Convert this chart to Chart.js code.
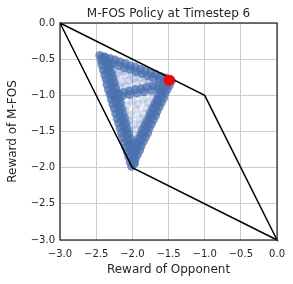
<!DOCTYPE html>
<html>
<head>
<meta charset="utf-8">
<script src="https://cdn.jsdelivr.net/npm/chart.js@4.4.1/dist/chart.umd.min.js"></script>
<style>
    html, body { margin: 0; padding: 0; background: #fff; }
    #wrap { width: 293px; height: 284px; }
</style>
</head>
<body>
<div id="wrap"><canvas id="chartCanvas" width="293" height="284"></canvas></div>
<script>

const chartTitle = "M-FOS Policy at Timestep 6";
const xLabel = "Reward of Opponent";
const yLabel = "Reward of M-FOS";

const xTicks = [-3.0, -2.5, -2.0, -1.5, -1.0, -0.5, 0.0];
const yTicks = [-3.0, -2.5, -2.0, -1.5, -1.0, -0.5, 0.0];

// outline of the feasible region
const boundaryX = [-3, -1, 0, -2, -3];
const boundaryY = [0, -1, -3, -2, 0];

// final policy point
const finalPoint = [-1.49, -0.79];

const leftEdge = [
    [-2.45, -0.45], [-2.43, -0.52], [-2.42, -0.58], [-2.40, -0.65], [-2.38, -0.72],
    [-2.36, -0.78], [-2.35, -0.85], [-2.33, -0.92], [-2.31, -0.98], [-2.29, -1.05],
    [-2.27, -1.12], [-2.25, -1.18], [-2.23, -1.25], [-2.21, -1.32], [-2.19, -1.38],
    [-2.17, -1.45], [-2.15, -1.52], [-2.13, -1.58], [-2.11, -1.65], [-2.09, -1.72],
    [-2.07, -1.78], [-2.05, -1.85], [-2.03, -1.92], [-2.01, -1.98],
    [-2.39, -0.48], [-2.37, -0.55], [-2.35, -0.62], [-2.33, -0.68], [-2.31, -0.75],
    [-2.29, -0.82], [-2.28, -0.88], [-2.26, -0.95], [-2.24, -1.02], [-2.22, -1.08],
    [-2.20, -1.15], [-2.18, -1.22], [-2.16, -1.28], [-2.14, -1.35], [-2.12, -1.42],
    [-2.10, -1.48], [-2.08, -1.55], [-2.06, -1.62], [-2.04, -1.68], [-2.02, -1.75],
    [-2.00, -1.82], [-1.98, -1.88], [-1.97, -1.94],
    [-2.33, -0.55], [-2.31, -0.62], [-2.29, -0.69], [-2.27, -0.76], [-2.25, -0.83],
    [-2.23, -0.90], [-2.21, -0.97], [-2.19, -1.04], [-2.17, -1.11], [-2.15, -1.18],
    [-2.13, -1.25], [-2.11, -1.32], [-2.09, -1.39], [-2.07, -1.46], [-2.05, -1.53],
    [-2.03, -1.60], [-2.01, -1.67], [-1.99, -1.74], [-1.97, -1.81]
];

const rightEdge = [
    [-1.46, -0.80], [-1.49, -0.86], [-1.52, -0.92], [-1.55, -0.98], [-1.57, -1.04],
    [-1.60, -1.10], [-1.63, -1.16], [-1.66, -1.22], [-1.68, -1.28], [-1.71, -1.34],
    [-1.74, -1.40], [-1.77, -1.46], [-1.79, -1.52], [-1.82, -1.58], [-1.85, -1.64],
    [-1.88, -1.70], [-1.90, -1.76], [-1.93, -1.82], [-1.96, -1.88], [-1.98, -1.94],
    [-1.53, -0.84], [-1.56, -0.90], [-1.59, -0.96], [-1.61, -1.02], [-1.64, -1.08],
    [-1.67, -1.14], [-1.70, -1.20], [-1.72, -1.26], [-1.75, -1.32], [-1.78, -1.38],
    [-1.81, -1.44], [-1.83, -1.50], [-1.86, -1.56], [-1.89, -1.62], [-1.92, -1.68],
    [-1.94, -1.74], [-1.97, -1.80],
    [-1.58, -0.88], [-1.61, -0.94], [-1.64, -1.00], [-1.66, -1.06], [-1.69, -1.12],
    [-1.72, -1.18], [-1.75, -1.24], [-1.77, -1.30], [-1.80, -1.36], [-1.83, -1.42],
    [-1.86, -1.48], [-1.88, -1.54], [-1.91, -1.60], [-1.94, -1.66], [-1.96, -1.72]
];

const topEdge = [
    [-2.38, -0.47], [-2.31, -0.49], [-2.24, -0.51], [-2.17, -0.54], [-2.10, -0.56],
    [-2.03, -0.59], [-1.96, -0.61], [-1.89, -0.64], [-1.82, -0.66], [-1.75, -0.69],
    [-1.68, -0.71], [-1.61, -0.74], [-1.54, -0.76], [-1.48, -0.78],
    [-2.35, -0.53], [-2.27, -0.56], [-2.19, -0.59], [-2.11, -0.62], [-2.03, -0.64],
    [-1.95, -0.67], [-1.87, -0.70], [-1.79, -0.73], [-1.71, -0.75], [-1.63, -0.78],
    [-1.56, -0.81], [-2.42, -0.48], [-2.38, -0.52], [-2.34, -0.58]
];

const innerBand = [
    [-2.28, -0.99], [-2.20, -0.97], [-2.12, -0.96], [-2.04, -0.94], [-1.96, -0.92],
    [-1.88, -0.91], [-1.80, -0.89], [-1.72, -0.87], [-1.64, -0.86],
    [-2.24, -1.03], [-2.14, -1.01], [-2.04, -0.99], [-1.94, -0.97], [-1.84, -0.95],
    [-1.74, -0.93], [-1.64, -0.91]
];

const interior = [
    [-2.40, -0.52], [-2.36, -0.58], [-2.32, -0.62], [-2.30, -0.56], [-2.36, -0.66],
    [-2.28, -0.66], [-2.20, -0.68], [-2.10, -0.72], [-2.00, -0.70], [-1.90, -0.75],
    [-1.80, -0.78], [-2.15, -0.82], [-2.05, -0.80], [-1.95, -0.83], [-2.25, -0.78],
    [-1.70, -0.80], [-2.18, -0.88], [-1.85, -0.84], [-2.22, -0.72], [-2.12, -0.66],
    [-1.98, -0.76], [-1.76, -0.83], [-2.08, -0.87], [-2.26, -0.84],
    [-2.15, -1.10], [-2.00, -1.08], [-1.85, -1.05], [-1.72, -1.02], [-2.10, -1.22],
    [-1.95, -1.20], [-1.80, -1.18], [-2.05, -1.35], [-1.90, -1.32], [-2.10, -1.45],
    [-1.95, -1.48], [-2.02, -1.60], [-1.92, -1.58], [-2.00, -1.72], [-2.05, -1.50],
    [-1.88, -1.40], [-2.02, -1.28], [-2.08, -1.62], [-2.18, -1.06], [-2.08, -1.14],
    [-1.92, -1.12], [-1.78, -1.10], [-2.14, -1.30], [-1.85, -1.26], [-1.98, -1.40],
    [-1.96, -1.66]
];

function toPoints(pairs) {

    return pairs.map(p => ({ x: p[0], y: p[1] }));

}

function formatTick(value) {

    const text = Math.abs(value).toFixed(1);

    return value < -1e-9 ? "\u2212" + text : text;

}

// matplotlib-like frame and title, centred over the axes
const framePlugin = {

    id: "frame",

    afterDraw(chart) {

        const { ctx, chartArea } = chart;

        ctx.save();

        ctx.strokeStyle = "#262626";
        ctx.lineWidth = 1.25;
        ctx.strokeRect(
            chartArea.left,
            chartArea.top,
            chartArea.right - chartArea.left,
            chartArea.bottom - chartArea.top
        );

        ctx.fillStyle = "#262626";
        ctx.font = "12px 'DejaVu Sans'";
        ctx.textAlign = "center";
        ctx.textBaseline = "alphabetic";
        ctx.fillText(chartTitle, (chartArea.left + chartArea.right) / 2, chartArea.top - 6);

        ctx.restore();

    }

};

const edges = [
    ...leftEdge,
    ...rightEdge,
    ...topEdge,
    ...innerBand
];

const ctx =
    document
    .getElementById("chartCanvas")
    .getContext("2d");

new Chart(ctx, {

    type: "scatter",

    data: {

        datasets: [

            {
                label: "final",
                data: [{ x: finalPoint[0], y: finalPoint[1] }],
                backgroundColor: "#ff0000",
                borderWidth: 0,
                pointRadius: 5.5,
                order: 0
            },

            {
                label: "boundary",
                data: boundaryX.map((x, i) => ({ x, y: boundaryY[i] })),
                showLine: true,
                borderColor: "#000000",
                borderWidth: 1.5,
                pointRadius: 0,
                fill: false,
                clip: 2,
                order: 1
            },

            {
                label: "edges",
                data: toPoints(edges),
                backgroundColor: "rgba(76, 114, 176, 0.75)",
                borderWidth: 0,
                pointRadius: 4.5,
                order: 2
            },

            {
                label: "interior",
                data: toPoints(interior),
                backgroundColor: "rgba(76, 114, 176, 0.22)",
                borderWidth: 0,
                pointRadius: 4.5,
                order: 3
            }

        ]

    },

    plugins: [framePlugin],

    options: {

        responsive: false,
        animation: false,
        devicePixelRatio: 1,

        layout: {
            padding: { top: 23, right: 15, left: 0, bottom: 0 }
        },

        plugins: {
            legend: { display: false },
            tooltip: { enabled: false }
        },

        scales: {

            x: {
                type: "linear",
                min: -3,
                max: 0,
                afterBuildTicks(axis) {
                    axis.ticks = xTicks.map(v => ({ value: v }));
                },
                afterFit(axis) {
                    axis.height = 44;
                },
                ticks: {
                    callback: formatTick,
                    color: "#262626",
                    font: { family: "DejaVu Sans", size: 10 },
                    padding: 8,
                    maxRotation: 0
                },
                grid: {
                    color: "#cccccc",
                    lineWidth: 1,
                    drawTicks: false
                },
                border: { display: false },
                title: {
                    display: true,
                    text: xLabel,
                    color: "#262626",
                    font: { family: "DejaVu Sans", size: 12 },
                    padding: { top: 0, bottom: 7 }
                }
            },

            y: {
                type: "linear",
                min: -3,
                max: 0,
                afterBuildTicks(axis) {
                    axis.ticks = yTicks.map(v => ({ value: v }));
                },
                afterFit(axis) {
                    axis.width = 60;
                },
                ticks: {
                    callback: formatTick,
                    color: "#262626",
                    font: { family: "DejaVu Sans", size: 10 },
                    padding: 5
                },
                grid: {
                    color: "#cccccc",
                    lineWidth: 1,
                    drawTicks: false
                },
                border: { display: false },
                title: {
                    display: true,
                    text: yLabel,
                    color: "#262626",
                    font: { family: "DejaVu Sans", size: 12 },
                    padding: { top: 6, bottom: 0 }
                }
            }

        }

    }

});

</script>
</body>
</html>
